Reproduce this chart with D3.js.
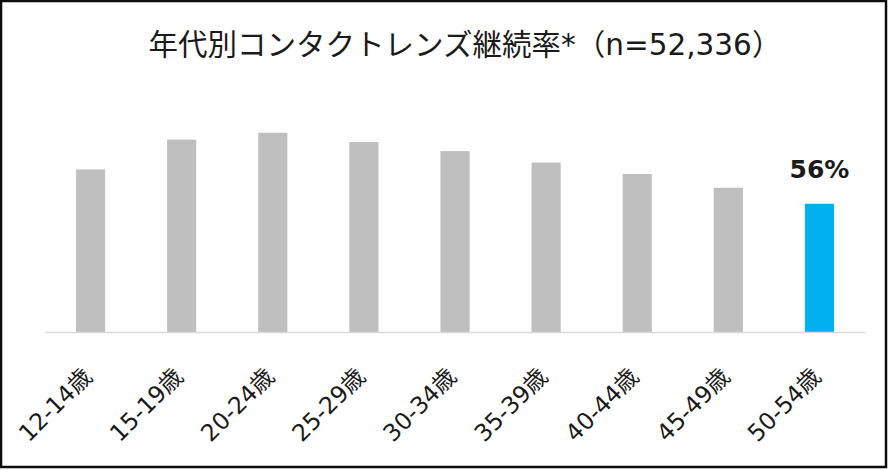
<!DOCTYPE html>
<html>
<head>
<meta charset="utf-8">
<script src="https://cdn.jsdelivr.net/npm/d3@7"></script>
<style>
  html, body { margin: 0; padding: 0; background: #fff; }
  svg { display: block; }
</style>
</head>
<body>
<div id="grafico"></div>
<script>
// 年代カテゴリと継続率（%）
const ageGroups = ['12-14歳', '15-19歳', '20-24歳', '25-29歳', '30-34歳', '35-39歳', '40-44歳', '45-49歳', '50-54歳'];
const rates = [71, 84, 87, 83, 79, 74, 69, 63, 56];
const highlightGroup = '50-54歳';
const chartTitle = '年代別コンタクトレンズ継続率*（n=52,336）';

const width = 889;
const height = 470;
const margin = { top: 103, right: 24, bottom: 138, left: 45 };

const svg = d3.select('#grafico')
  .append('svg')
  .attr('width', width)
  .attr('height', height);

// 外枠
svg.append('rect')
  .attr('x', 1)
  .attr('y', 1)
  .attr('width', 885)
  .attr('height', 466)
  .attr('fill', '#fff')
  .attr('stroke', '#0d0d0d')
  .attr('stroke-width', 2.5);

const x = d3.scaleBand()
  .domain(ageGroups)
  .range([margin.left, width - margin.right])
  .paddingInner(0.68)
  .paddingOuter(0.34);

const y = d3.scaleLinear()
  .domain([0, 100])
  .range([height - margin.bottom, margin.top]);

const data = ageGroups.map((g, i) => ({ group: g, rate: rates[i] }));

// 棒
svg.selectAll('.bar')
  .data(data)
  .enter()
  .append('rect')
  .attr('class', 'bar')
  .attr('x', d => x(d.group))
  .attr('y', d => y(d.rate))
  .attr('width', x.bandwidth())
  .attr('height', d => y(0) - y(d.rate))
  .attr('fill', d => d.group === highlightGroup ? '#00B0F0' : '#BFBFBF');

// X軸
const axis = svg.append('g')
  .attr('transform', `translate(0, ${y(0)})`)
  .call(d3.axisBottom(x).tickSize(0).tickSizeOuter(0));

axis.select('.domain')
  .attr('stroke', '#D9D9D9')
  .attr('stroke-width', 1.5);

axis.selectAll('text')
  .attr('y', 0)
  .attr('dy', 0)
  .attr('transform', 'translate(3, 46) rotate(-45)')
  .attr('text-anchor', 'end')
  .attr('fill', '#1a1a1a')
  .style('font-family', '"DejaVu Sans", "Noto Sans CJK JP", sans-serif')
  .style('font-size', '23.5px');

// 強調ラベル
svg.selectAll('.label')
  .data(data.filter(d => d.group === highlightGroup))
  .enter()
  .append('text')
  .attr('class', 'label')
  .attr('x', d => x(d.group) + x.bandwidth() / 2)
  .attr('y', d => y(d.rate) - 26)
  .attr('text-anchor', 'middle')
  .attr('fill', '#1a1a1a')
  .style('font-family', '"DejaVu Sans", sans-serif')
  .style('font-weight', 'bold')
  .style('font-size', '25px')
  .text(d => d.rate + '%');

// タイトル
svg.append('text')
  .attr('x', 465)
  .attr('y', 55)
  .attr('text-anchor', 'middle')
  .attr('fill', '#1a1a1a')
  .style('font-family', '"DejaVu Sans", "Noto Sans CJK JP", sans-serif')
  .style('font-size', '29.5px')
  .text(chartTitle);
</script>
</body>
</html>
